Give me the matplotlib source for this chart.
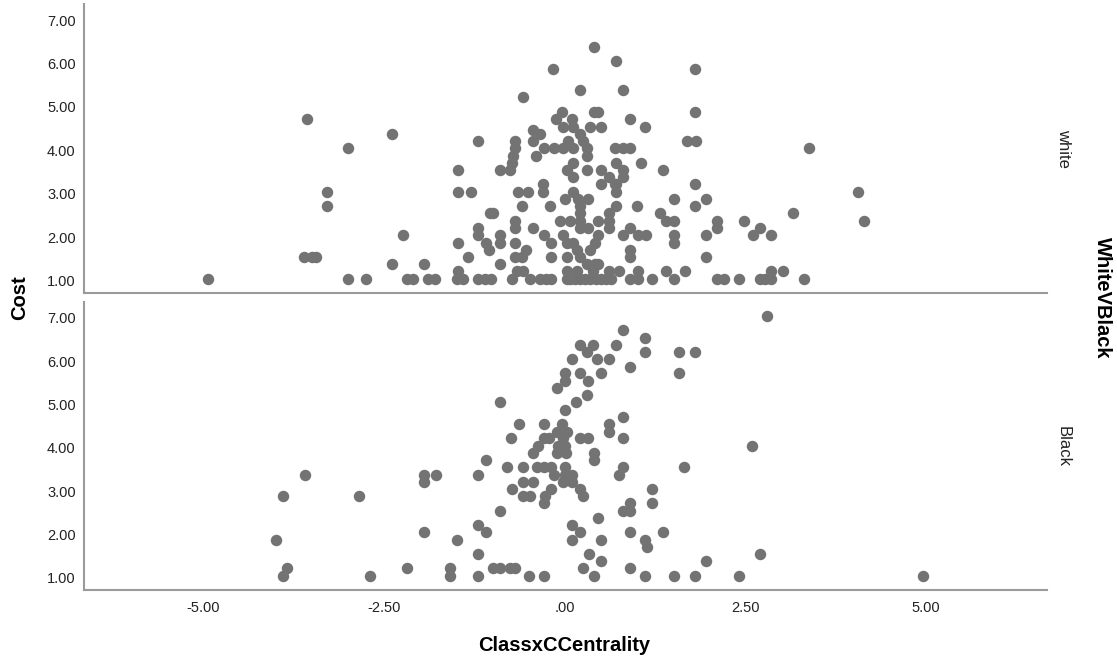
import numpy as np
import matplotlib
matplotlib.use("Agg")
import matplotlib.pyplot as plt
import matplotlib.transforms as mtransforms

plt.rcParams['font.family'] = ['Liberation Sans', 'DejaVu Sans']

# %%
# ClassxCCentrality / Cost pairs, one pair of lists per WhiteVBlack group
white_x = [
    -4.93, -3.56, -2.99, -3.28, -3.28, -3.60, -3.50, -3.44, -2.99, -2.74,
    -2.39, -2.24, -2.39, -2.18, -2.09, -1.94, -1.89, -1.79, -1.49, -1.40,
    -1.48, -1.19, -1.10, -1.01, -0.73, -0.66, -0.57, -0.48, -0.34, -0.25,
    -0.18, -1.34, -0.89, -1.48, -1.19, -1.19, -1.09, -1.04, -0.89, -0.89,
    -0.69, -0.69, -0.69, -0.69, -0.59, -0.53, -0.44, -0.28, -0.18, -0.19,
    0.03, -0.02, 0.03, -1.03, -0.99, -0.59, -0.20, -0.06, 0.08, -1.48,
    -1.30, -0.64, -0.50, -0.30, -0.30, 0.12, 0.01, -1.48, -0.89, -0.75,
    -0.73, -0.71, -0.69, -0.69, -1.19, -0.39, -0.44, -0.34, -0.44, -0.58,
    -0.16, -0.28, -0.15, -0.02, 0.12, -0.12, -0.04, -0.02, 0.11, 0.12,
    0.03, 0.12, 0.12,
    0.41, 0.71, 1.81, 0.21, 0.81, 0.41, 0.47, 1.81, 0.36, 0.51,
    0.91, 1.11, 0.21, 0.26, 0.05, 0.31, 0.31, 0.70, 0.81, 0.91,
    1.70, 1.82, 0.31, 0.51, 0.62, 0.70, 0.71, 0.81, 0.81, 1.06,
    1.37, 0.51, 0.71, 0.71, 1.81, 0.33, 0.19, 0.21, 0.21, 0.21,
    0.21, 0.33, 0.71, 1.01, 1.52, 1.81, 1.96, 0.47, 0.62, 0.62,
    0.62, 1.32, 1.41, 1.52, 2.11, 2.11, 2.48, 0.91, 0.81, 1.02,
    1.13, 1.52, 1.52, 1.96, 0.47, 0.42, 0.36, 0.91, 0.91, 1.96,
    0.17, 0.21, 0.31, 0.42, 0.47, 0.12, 0.61, 0.76, 1.02, 1.41,
    1.67, 0.03, 0.08, 0.15, 0.22, 0.29, 0.36, 0.43, 0.50, 0.57,
    0.64, 0.91, 1.02, 1.21, 1.52, 2.11, 2.21, 2.41, 0.03, 0.17,
    0.39,
    3.38, 4.06, 4.14, 3.16, 2.61, 2.71, 2.86, 2.71, 2.78, 2.86,
    2.86, 3.02, 3.32,
]
white_cost = [
    1.00, 4.67, 4.00, 3.00, 2.67, 1.50, 1.50, 1.50, 1.00, 1.00,
    4.33, 2.00, 1.33, 1.00, 1.00, 1.33, 1.00, 1.00, 1.00, 1.00,
    1.17, 1.00, 1.00, 1.00, 1.00, 1.17, 1.17, 1.00, 1.00, 1.00,
    1.00, 1.50, 1.33, 1.83, 2.17, 2.00, 1.83, 1.67, 2.00, 1.83,
    2.33, 2.17, 1.83, 1.50, 1.50, 1.67, 2.17, 2.00, 1.83, 1.50,
    1.50, 2.00, 1.83, 2.50, 2.50, 2.67, 2.67, 2.33, 2.33, 3.00,
    3.00, 3.00, 3.00, 3.17, 3.00, 3.00, 2.83, 3.50, 3.50, 3.50,
    3.67, 3.83, 4.00, 4.17, 4.17, 3.83, 4.42, 4.33, 4.17, 5.17,
    5.83, 4.00, 4.00, 4.00, 4.00, 4.67, 4.83, 4.50, 4.67, 4.50,
    3.50, 3.67, 3.33,
    6.33, 6.00, 5.83, 5.33, 5.33, 4.83, 4.83, 4.83, 4.50, 4.50,
    4.67, 4.50, 4.33, 4.17, 4.17, 4.00, 3.83, 4.00, 4.00, 4.00,
    4.17, 4.17, 3.50, 3.50, 3.33, 3.17, 3.67, 3.50, 3.33, 3.67,
    3.50, 3.17, 3.17, 3.00, 3.17, 2.83, 2.83, 2.67, 2.50, 2.33,
    2.17, 2.17, 2.67, 2.67, 2.83, 2.67, 2.83, 2.33, 2.50, 2.33,
    2.17, 2.50, 2.33, 2.33, 2.33, 2.17, 2.33, 2.17, 2.00, 2.00,
    2.00, 2.00, 1.83, 2.00, 2.00, 1.83, 1.67, 1.67, 1.50, 1.50,
    1.67, 1.50, 1.33, 1.33, 1.33, 1.83, 1.17, 1.17, 1.17, 1.17,
    1.17, 1.00, 1.00, 1.00, 1.00, 1.00, 1.00, 1.00, 1.00, 1.00,
    1.00, 1.00, 1.00, 1.00, 1.00, 1.00, 1.00, 1.00, 1.17, 1.17,
    1.17,
    4.00, 3.00, 2.33, 2.50, 2.00, 2.17, 2.00, 1.00, 1.00, 1.17,
    1.00, 1.17, 1.00,
]

black_x = [
    -3.59, -3.89, -2.84, -3.99, -3.84, -3.89, -2.69, -2.18, -1.59, -1.59,
    -1.19, -1.19, -0.99, -0.89, -0.75, -0.69, -0.49, -0.29, -1.94, -1.49,
    -1.19, -1.09, -0.89, -1.94, -1.94, -1.78, -1.19, -1.09, -0.79, -0.58,
    -0.38, -0.28, -0.19, -0.14, -0.58, -0.43, -0.73, -0.58, -0.48, -0.19,
    -0.27, -0.29, -0.89, -0.63, -0.29, -0.74, -0.29, -0.22, -0.44, -0.36,
    -0.10,
    0.81, 1.11, 0.21, 0.40, 0.71, 0.31, 0.45, 0.61, 0.11, 1.11,
    1.59, 1.81, 1.59, 0.91, 0.01, 0.01, 0.21, 0.32, 0.51, 0.31,
    0.16, 0.01, -0.04, -0.11, 0.03, -0.02, -0.09, 0.01, -0.11, 0.02,
    0.21, 0.32, 0.61, 0.61, 0.81, 0.81, 0.41, 0.41, 2.60, 0.01,
    0.01, 0.10, -0.02, 0.10, 0.81, 0.76, 1.66, 0.21, 0.26, 1.21,
    1.21, 0.81, 0.91, 0.91, 0.47, 0.10, 0.21, 0.10, 0.51, 0.91,
    1.11, 1.14, 1.37, 0.34, 0.51, 0.26, 0.41, 0.91, 1.11, 1.51,
    1.81, 1.96, 2.41, 2.81, 2.71, 4.96,
]
black_cost = [
    3.33, 2.83, 2.83, 1.83, 1.17, 1.00, 1.00, 1.17, 1.17, 1.00,
    1.00, 1.50, 1.17, 1.17, 1.17, 1.17, 1.00, 1.00, 2.00, 1.83,
    2.17, 2.00, 2.50, 3.33, 3.17, 3.33, 3.33, 3.67, 3.50, 3.50,
    3.50, 3.50, 3.50, 3.33, 3.17, 3.17, 3.00, 2.83, 2.83, 3.00,
    2.83, 2.67, 5.00, 4.50, 4.50, 4.17, 4.17, 4.17, 3.83, 4.00,
    5.33,
    6.67, 6.50, 6.33, 6.33, 6.33, 6.17, 6.00, 6.00, 6.00, 6.17,
    6.17, 6.17, 5.67, 5.83, 5.67, 5.50, 5.67, 5.50, 5.67, 5.17,
    5.00, 4.83, 4.50, 4.33, 4.33, 4.17, 4.00, 4.00, 3.83, 3.83,
    4.17, 4.17, 4.50, 4.33, 4.67, 4.17, 3.83, 3.67, 4.00, 3.50,
    3.33, 3.33, 3.17, 3.17, 3.50, 3.33, 3.50, 3.00, 2.83, 3.00,
    2.67, 2.50, 2.67, 2.50, 2.33, 2.17, 2.00, 1.83, 1.83, 2.00,
    1.83, 1.67, 2.00, 1.50, 1.33, 1.17, 1.00, 1.17, 1.00, 1.00,
    1.00, 1.33, 1.00, 7.00, 1.50, 1.00,
]

groups = ['white', 'Black']
x_ticks = [-5.0, -2.5, 0.0, 2.5, 5.0]
x_ticklabels = ['-5.00', '-2.50', '.00', '2.50', '5.00']
y_ticks = [1, 2, 3, 4, 5, 6, 7]
y_ticklabels = ['%.2f' % v for v in y_ticks]

# %%
fig = plt.figure(figsize=(11.17, 6.59), dpi=100)
ax_top = fig.add_axes([0.0752, 0.5554, 0.8619, 0.4385])
ax_bot = fig.add_axes([0.0752, 0.1047, 0.8619, 0.4370])

dot_color = '#737373'
axis_color = '#9a9a9a'
# nudge y tick labels down a couple of pixels
label_shift = mtransforms.ScaledTranslation(0, -1.5 / 72, fig.dpi_scale_trans)

panels = [(ax_top, white_x, white_cost), (ax_bot, black_x, black_cost)]
for (ax, xs, ys), name in zip(panels, groups):
    ax.scatter(xs, ys, s=68, color=dot_color, linewidths=0, zorder=3)
    ax.set_xlim(-6.65, 6.675)
    ax.set_ylim(0.67, 7.32)
    ax.set_yticks(y_ticks)
    ax.set_yticklabels(y_ticklabels)
    ax.set_xticks(x_ticks)
    for side in ['top', 'right']:
        ax.spines[side].set_visible(False)
    for side in ['left', 'bottom']:
        ax.spines[side].set_color(axis_color)
        ax.spines[side].set_linewidth(1.5)
    ax.tick_params(axis='both', length=0, labelsize=10.5, colors='#222222')
    ax.tick_params(axis='y', pad=6)
    for lbl in ax.get_yticklabels():
        lbl.set_transform(lbl.get_transform() + label_shift)
    ax.text(1.017, 0.5, name, transform=ax.transAxes, rotation=-90,
            ha='center', va='center', fontsize=12, color='#222222')

ax_top.tick_params(axis='x', labelbottom=False)
ax_bot.set_xticklabels(x_ticklabels)
ax_bot.tick_params(axis='x', pad=8)

fig.text(0.018, 0.548, 'Cost', rotation=90, ha='center', va='center',
         fontsize=14.5, fontweight='bold')
fig.text(0.505, 0.021, 'ClassxCCentrality', ha='center', va='center',
         fontsize=14.5, fontweight='bold')
fig.text(0.987, 0.548, 'WhiteVBlack', rotation=-90, ha='center', va='center',
         fontsize=14.5, fontweight='bold')

fig.savefig('out.png', dpi=100)
